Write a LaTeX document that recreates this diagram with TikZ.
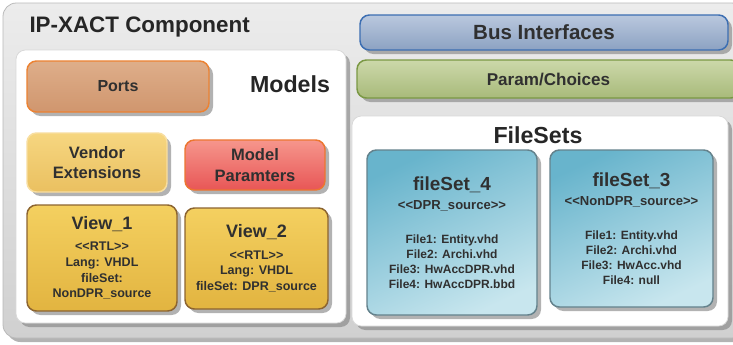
\documentclass[tikz,border=0pt]{standalone}
\usepackage{fontspec}
\setmainfont{Liberation Sans}
\usetikzlibrary{shadows}

\definecolor{txtgray}{RGB}{48,48,48}
\definecolor{compTop}{RGB}{236,236,236}
\definecolor{compBot}{RGB}{208,208,208}
\definecolor{compLine}{RGB}{185,185,185}
\definecolor{portTop}{RGB}{222,174,138}
\definecolor{portBot}{RGB}{208,150,110}
\definecolor{portLine}{RGB}{236,130,50}
\definecolor{vendTop}{RGB}{246,214,128}
\definecolor{vendBot}{RGB}{234,192,96}
\definecolor{vendLine}{RGB}{248,222,160}
\definecolor{parTop}{RGB}{246,150,140}
\definecolor{parBot}{RGB}{232,86,86}
\definecolor{parLine}{RGB}{236,118,48}
\definecolor{viewTop}{RGB}{244,208,96}
\definecolor{viewBot}{RGB}{226,180,64}
\definecolor{viewLine}{RGB}{140,100,48}
\definecolor{busTop}{RGB}{186,200,222}
\definecolor{busBot}{RGB}{140,162,194}
\definecolor{busLine}{RGB}{60,110,178}
\definecolor{chTop}{RGB}{204,216,170}
\definecolor{chBot}{RGB}{168,186,122}
\definecolor{chLine}{RGB}{122,152,68}
\definecolor{fsDark}{RGB}{104,180,204}
\definecolor{fsLight}{RGB}{200,230,238}
\definecolor{fsLine}{RGB}{100,130,140}

\newcommand\stereo[1]{<{}<#1>{}>}
\newcommand\boxtitlefont{\fontsize{13.5}{16}\selectfont}
\newcommand\fstitlefont{\fontsize{14.2}{17}\selectfont}
\newcommand\fsstereofont{\fontsize{9.8}{11.6}\selectfont}

\tikzset{every picture/.style={line width=0.75pt}}
\tikzset{
  box/.style={rounded corners=7pt, inner sep=0pt, align=center, text=txtgray,
    font=\bfseries, line width=1.1pt,
    drop shadow={shadow xshift=3pt, shadow yshift=-3pt, fill=black!50, opacity=0.6}},
  compbox/.style={box, rounded corners=10pt, top color=compTop, bottom color=compBot, draw=compLine, line width=0.6pt},
  whitebox/.style={box, fill=white, draw=black!15, line width=0.6pt},
  portbox/.style={box, top color=portTop, bottom color=portBot, draw=portLine,
    font=\bfseries\fontsize{12}{14}\selectfont},
  vendbox/.style={box, top color=vendTop, bottom color=vendBot, draw=vendLine,
    font=\bfseries\fontsize{12.4}{15.6}\selectfont},
  parbox/.style={box, top color=parTop, bottom color=parBot, draw=parLine,
    font=\bfseries\fontsize{12.4}{15.6}\selectfont},
  viewbox/.style={box, top color=viewTop, bottom color=viewBot, draw=viewLine,
    font=\bfseries\fontsize{9.4}{11.8}\selectfont},
  busbox/.style={box, top color=busTop, bottom color=busBot, draw=busLine,
    font=\bfseries\fontsize{15.4}{18}\selectfont},
  choicebox/.style={box, top color=chTop, bottom color=chBot, draw=chLine,
    font=\bfseries\fontsize{12.8}{15}\selectfont},
  fsbox/.style={box, top color=fsDark, bottom color=fsLight, shading angle=25, draw=fsLine,
    font=\bfseries\fontsize{9}{11.3}\selectfont},
  bigtext/.style={inner sep=0pt, text=black!85, font=\bfseries\fontsize{17.4}{20}\selectfont}
}

\begin{document}
\begin{tikzpicture}[x=0.75pt,y=0.75pt,yscale=-1,xscale=1]
\useasboundingbox (0,0) rectangle (733,344);

%Rounded Rect: whole component
\node [compbox, minimum width=556.5pt, minimum height=251.25pt] (component) at (374,170.5) {};
\node [bigtext, anchor=base west, font=\bfseries\fontsize{16.8}{19}\selectfont] (comptitle) at (29,32) {IP-XACT Component};

%Rounded Rect: models side
\node [whitebox, minimum width=247.5pt, minimum height=204.75pt] (models) at (181,186.5) {};
\node [bigtext] (modelstitle) at (290,84) {Models};
\node [portbox, minimum width=136.5pt, minimum height=38.25pt] (ports) at (118,86.5) {Ports};
\node [vendbox, minimum width=105pt, minimum height=44.25pt] (vendor) at (97,162.5) {Vendor\\Extensions};
\node [parbox, minimum width=105pt, minimum height=37.5pt] (modelpar) at (255,165) {Model\\Paramters};
\node [viewbox, minimum width=112.5pt, minimum height=79.5pt] (view1) at (102,258)
  {{\boxtitlefont View\_1}\\[4pt]\stereo{RTL}\\Lang: VHDL\\fileSet:\\NonDPR\_source};
\node [viewbox, minimum width=107.25pt, minimum height=75.75pt] (view2) at (256.5,258.5)
  {{\boxtitlefont View\_2}\\[4pt]\stereo{RTL}\\Lang: VHDL\\fileSet: DPR\_source};

%Rounded Rect: right side
\node [busbox, minimum width=276pt, minimum height=26.25pt] (bus) at (544,32.5) {Bus Interfaces};
\node [choicebox, minimum width=287.25pt, minimum height=28.5pt] (choices) at (548.5,79) {Param/Choices};
\node [whitebox, minimum width=282pt, minimum height=157.5pt] (filesets) at (540,221) {};
\node [bigtext] (filesetstitle) at (538,135) {FileSets};
\node [fsbox, minimum width=127.5pt, minimum height=123.75pt] (fs4) at (452,232.5)
  {{\fstitlefont fileSet\_4}\\[3pt]{\fsstereofont\stereo{DPR\_source}}\\[14pt]
   File1: Entity.vhd\\File2: Archi.vhd\\File3: HwAccDPR.vhd\\File4: HwAccDPR.bbd};
\node [fsbox, minimum width=122.25pt, minimum height=117.75pt] (fs3) at (631.5,228.5)
  {{\fstitlefont fileSet\_3}\\[3pt]{\fsstereofont\stereo{NonDPR\_source}}\\[14pt]
   File1: Entity.vhd\\File2: Archi.vhd\\File3: HwAcc.vhd\\File4: null};

\end{tikzpicture}
\end{document}
